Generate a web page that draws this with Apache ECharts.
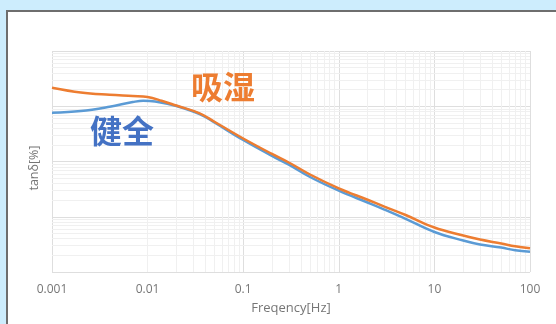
<!DOCTYPE html>
<html>
<head>
<meta charset="utf-8">
<script src="https://cdn.jsdelivr.net/npm/echarts@6/dist/echarts.min.js"></script>
<style>
html,body{margin:0;padding:0;width:556px;height:324px;overflow:hidden;background:#cdedfd;}
#panel{position:absolute;left:6px;top:10px;width:600px;height:400px;background:#fff;border:2px solid #6e6e6e;box-sizing:border-box;}
#chart{position:absolute;left:0;top:0;width:556px;height:324px;}
</style>
</head>
<body>
<div id="panel"></div>
<div id="chart"></div>
<script>
// Frequencies [Hz]
const freqWet = [0.001,0.002,0.004,0.007,0.01,0.014,0.02,0.035,0.05,0.1,0.2,0.3,0.5,1,2,3,5,10,20,30,50,70,100];
const tanWet  = [21.6,17.7,16.1,15.3,14.7,12.6,10.3,7.45,5.25,2.61,1.37,0.96,0.582,0.327,0.203,0.153,0.1076,0.0638,0.0458,0.0387,0.0328,0.0292,0.0269];
const freqSound = [0.001,0.002,0.004,0.007,0.009,0.012,0.02,0.035,0.05,0.1,0.2,0.3,0.5,1,2,3,5,10,20,30,50,70,100];
const tanSound  = [7.64,8.2,9.8,11.9,12.6,12.2,10.1,7.24,5.08,2.45,1.26,0.875,0.524,0.296,0.181,0.135,0.0918,0.053,0.0372,0.0315,0.0277,0.0247,0.0233];
const xTickLabels = ['0.001','0.01','0.1','1','10','100'];
const xDecades = [0.001,0.01,0.1,1,10];
const yDecades = [0.01,0.1,1,10];
const minorMultipliers = [2,3,4,5,6,7,8,9];

const minorLines = [];
xDecades.forEach(d => minorMultipliers.forEach(m => minorLines.push({xAxis: +(d*m).toPrecision(3)})));
yDecades.forEach(d => minorMultipliers.forEach(m => minorLines.push({yAxis: +(d*m).toPrecision(3)})));

const chart = echarts.init(document.getElementById('chart'));
chart.setOption({
  animation: false,
  grid: {left: 52, right: 26, top: 51, bottom: 52},
  xAxis: {
    type: 'log', min: 0.001, max: 100, logBase: 10,
    name: 'Freqency[Hz]', nameLocation: 'middle', nameGap: 30,
    nameTextStyle: {color: '#767676', fontSize: 13, fontFamily: 'Open Sans'},
    axisLine: {show: false}, axisTick: {show: false},
    axisLabel: {color: '#767676', fontSize: 12, fontFamily: 'Open Sans', margin: 12,
      formatter: v => { const i = Math.round(Math.log10(v) + 3); return xTickLabels[i] !== undefined ? xTickLabels[i] : ''; }},
    splitLine: {show: true, lineStyle: {color: '#dedede', width: 1}}
  },
  yAxis: {
    type: 'log', min: 0.01, max: 100, logBase: 10,
    name: 'tanδ[%]', nameLocation: 'middle', nameGap: 11, nameRotate: 90,
    nameTextStyle: {color: '#767676', fontSize: 12.5, fontFamily: 'Open Sans', padding: [0, 13, 0, 0]},
    axisLine: {show: false}, axisTick: {show: false}, axisLabel: {show: false},
    splitLine: {show: true, lineStyle: {color: '#dedede', width: 1}}
  },
  series: [
    {
      type: 'line', data: [], z: 0, silent: true,
      markLine: {z: 0, silent: true, symbol: 'none', label: {show: false}, animation: false,
        lineStyle: {color: '#f0f0f0', width: 1, type: 'solid'}, data: minorLines}
    },
    {
      name: '健全', type: 'line', z: 3, showSymbol: false, smooth: 0.4,
      lineStyle: {color: '#5b9bd5', width: 2.5},
      data: freqSound.map((f, i) => [f, tanSound[i]])
    },
    {
      name: '吸湿', type: 'line', z: 4, showSymbol: false, smooth: 0.4,
      lineStyle: {color: '#ed7d31', width: 2.5},
      data: freqWet.map((f, i) => [f, tanWet[i]])
    }
  ],
  graphic: [
    {type: 'text', z: 100, left: 191, top: 71, style: {text: '吸湿', fill: '#ed7d31', fontSize: 32, fontWeight: 'bold', fontFamily: 'Noto Sans CJK SC'}},
    {type: 'text', z: 100, left: 90, top: 115, style: {text: '健全', fill: '#4472c4', fontSize: 32, fontWeight: 'bold', fontFamily: 'Noto Sans CJK SC'}}
  ]
});
</script>
</body>
</html>
